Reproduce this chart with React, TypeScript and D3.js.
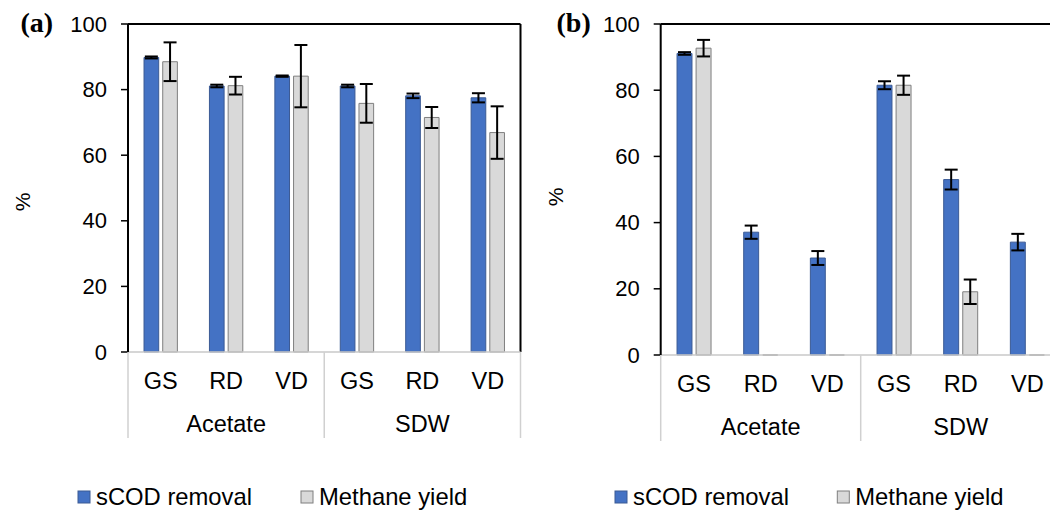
import React from 'react';
import * as d3 from 'd3';

// Treatments on the first category level, substrates on the second level
const treatments = ['GS', 'RD', 'VD', 'GS', 'RD', 'VD'];
const substrates = ['Acetate', 'SDW'];
const seriesNames = ['sCOD removal', 'Methane yield'];
const yTicks = [0, 20, 40, 60, 80, 100];

// Panel (a)
const codRemovalA = [89.8, 81.1, 84.1, 81.1, 78.1, 77.5];
const codRemovalErrA = [0.3, 0.4, 0.2, 0.4, 0.7, 1.4];
const methaneYieldA = [88.5, 81.2, 84.1, 75.8, 71.5, 66.9];
const methaneYieldErrA = [5.9, 2.7, 9.5, 5.9, 3.2, 8.0];

// Panel (b)
const codRemovalB = [91.1, 37.1, 29.3, 81.5, 53.0, 34.1];
const codRemovalErrB = [0.4, 2.0, 2.1, 1.2, 3.0, 2.5];
const methaneYieldB = [92.7, 0, 0, 81.5, 19.1, 0];
const methaneYieldErrB = [2.5, 0, 0, 2.9, 3.7, 0];

const FILLS = ['#4472C4', '#D9D9D9'];
const STROKES = ['#3b5a94', '#7f7f7f'];
const SANS = '"Liberation Sans", Arial, sans-serif';
const SERIF = '"Liberation Serif", "Times New Roman", serif';

type Layout = {
  tag: string;
  left: number;
  right: number;
  top: number;
  bottom: number;
  tagX: number;
  pctX: number;
  pctY: number;
  legendX: [number, number];
};

function Panel({
  layout,
  values,
  errors,
}: {
  layout: Layout;
  values: number[][];
  errors: number[][];
}) {
  const { left, right, top, bottom } = layout;
  const y = d3.scaleLinear().domain([0, 100]).range([bottom, top]);
  const x0 = d3
    .scaleBand<number>()
    .domain(d3.range(treatments.length))
    .range([left, right])
    .padding(0);
  const bw = x0.bandwidth();
  const x1 = d3
    .scaleBand<string>()
    .domain(seriesNames)
    .range([bw * 0.245, bw * 0.755])
    .paddingInner(0.216);
  const barW = x1.bandwidth();
  const groupScale = d3
    .scaleBand<string>()
    .domain(substrates)
    .range([left, right])
    .padding(0);

  // Bars as closed paths so that zero-height bars still show their outline
  const barPath = (x: number, v: number) => {
    const p = d3.path();
    const y0 = y(0);
    const yv = y(v);
    p.moveTo(x, y0);
    p.lineTo(x, yv);
    p.lineTo(x + barW, yv);
    p.lineTo(x + barW, y0);
    p.closePath();
    return p.toString();
  };

  const cap = 6.5;

  return (
    <g>
      {/* panel tag */}
      <text
        x={layout.tagX}
        y={31.5}
        fontFamily={SERIF}
        fontWeight="bold"
        fontSize={28}
        fill="#000"
      >
        {layout.tag}
      </text>

      {/* y title */}
      <text
        transform={`translate(${layout.pctX},${layout.pctY}) rotate(-90)`}
        textAnchor="middle"
        dominantBaseline="central"
        fontFamily={SANS}
        fontSize={21}
        fill="#000"
      >
        %
      </text>

      {/* bars */}
      {values.map((series, s) =>
        series.map((v, i) => (
          <path
            key={`b${s}-${i}`}
            d={barPath(x0(i)! + x1(seriesNames[s])!, v)}
            fill={FILLS[s]}
            stroke={STROKES[s]}
            strokeWidth={1}
          />
        ))
      )}

      {/* error bars */}
      {values.map((series, s) =>
        series.map((v, i) => {
          const e = errors[s][i];
          if (!e) return null;
          const cx = x0(i)! + x1(seriesNames[s])! + barW / 2;
          const yHi = y(v + e);
          const yLo = y(v - e);
          return (
            <g key={`e${s}-${i}`} stroke="#000" strokeWidth={2}>
              <line x1={cx} x2={cx} y1={yHi} y2={yLo} />
              <line x1={cx - cap} x2={cx + cap} y1={yHi} y2={yHi} />
              <line x1={cx - cap} x2={cx + cap} y1={yLo} y2={yLo} />
            </g>
          );
        })
      )}

      {/* frame: top and right */}
      <line x1={left} x2={right} y1={top} y2={top} stroke="#000" strokeWidth={2} />
      <line x1={right} x2={right} y1={top} y2={bottom} stroke="#000" strokeWidth={2} />

      {/* category axis line */}
      <line x1={left} x2={right} y1={bottom} y2={bottom} stroke="#c8c8c8" strokeWidth={1.5} />

      {/* y axis */}
      <line x1={left} x2={left} y1={top} y2={bottom} stroke="#000" strokeWidth={2} />
      {yTicks.map((t) => (
        <g key={`t${t}`}>
          <line x1={left - 7} x2={left} y1={y(t)} y2={y(t)} stroke="#000" strokeWidth={1.5} />
          <text
            x={left - 21}
            y={y(t)}
            textAnchor="end"
            dominantBaseline="central"
            fontFamily={SANS}
            fontSize={22}
            fill="#000"
          >
            {t}
          </text>
        </g>
      ))}

      {/* multi-level category labels */}
      {treatments.map((c, i) => (
        <text
          key={`c${i}`}
          x={x0(i)! + bw / 2}
          y={bottom + 37}
          textAnchor="middle"
          fontFamily={SANS}
          fontSize={23.5}
          fill="#000"
        >
          {c}
        </text>
      ))}
      {substrates.map((g) => (
        <text
          key={g}
          x={groupScale(g)! + groupScale.bandwidth() / 2}
          y={bottom + 80}
          textAnchor="middle"
          fontFamily={SANS}
          fontSize={23.5}
          fill="#000"
        >
          {g}
        </text>
      ))}
      {[...substrates.map((g) => groupScale(g)!), right].map((sx, k) => (
        <line
          key={`s${k}`}
          x1={sx}
          x2={sx}
          y1={bottom}
          y2={bottom + 86}
          stroke="#d0d0d0"
          strokeWidth={1.5}
        />
      ))}

      {/* legend */}
      {seriesNames.map((name, s) => (
        <g key={name}>
          <rect
            x={layout.legendX[s]}
            y={491}
            width={12}
            height={12}
            fill={FILLS[s]}
            stroke={STROKES[s]}
            strokeWidth={1}
          />
          <text
            x={layout.legendX[s] + 18}
            y={505}
            fontFamily={SANS}
            fontSize={23.8}
            fill="#000"
          >
            {name}
          </text>
        </g>
      ))}
    </g>
  );
}

const layoutA: Layout = {
  tag: '(a)',
  left: 128,
  right: 520.5,
  top: 24,
  bottom: 352,
  tagX: 20.5,
  pctX: 22.5,
  pctY: 202,
  legendX: [78, 301],
};

const layoutB: Layout = {
  tag: '(b)',
  left: 660.7,
  right: 1060.7,
  top: 24,
  bottom: 355,
  tagX: 556.5,
  pctX: 555.5,
  pctY: 197,
  legendX: [615, 837.3],
};

export default function App() {
  return (
    <svg
      width={1050}
      height={512}
      viewBox="0 0 1050 512"
      style={{ position: 'absolute', left: 0, top: 0, background: '#fff' }}
    >
      <rect width={1050} height={512} fill="#fff" />
      <Panel
        layout={layoutA}
        values={[codRemovalA, methaneYieldA]}
        errors={[codRemovalErrA, methaneYieldErrA]}
      />
      <Panel
        layout={layoutB}
        values={[codRemovalB, methaneYieldB]}
        errors={[codRemovalErrB, methaneYieldErrB]}
      />
    </svg>
  );
}
